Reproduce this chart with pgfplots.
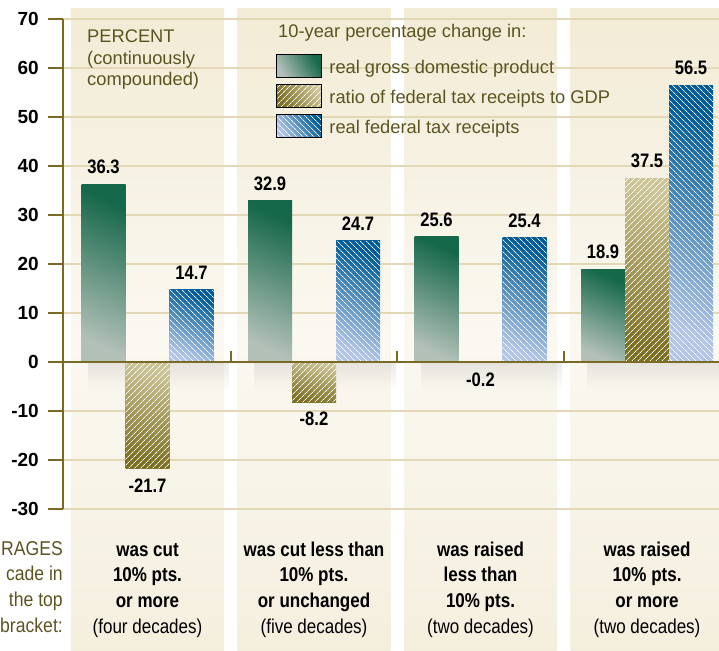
\documentclass[border=0pt]{standalone}
\usepackage{pgfplots}
\pgfplotsset{compat=1.18}
\usepackage{fontspec}
\setmainfont{Liberation Sans}
\newfontfamily\condfont[FakeStretch=0.85]{Liberation Sans}
\newfontfamily\fragfont[FakeStretch=0.88]{Liberation Sans}
\usetikzlibrary{patterns.meta,fadings}

\definecolor{axisolive}{RGB}{122,106,34}
\definecolor{txtolive}{RGB}{92,84,32}
\definecolor{gridtan}{RGB}{226,216,182}
\definecolor{paneltop}{RGB}{242,235,213}
\definecolor{panelmid}{RGB}{250,248,241}
\definecolor{panelbot}{RGB}{244,238,220}
\definecolor{gdpdark}{RGB}{22,104,74}
\definecolor{gdplight}{RGB}{178,192,184}
\definecolor{ratdark}{RGB}{124,111,34}
\definecolor{ratlight}{RGB}{204,196,150}
\definecolor{recdark}{RGB}{0,92,152}
\definecolor{reclight}{RGB}{178,197,232}

\pgfplotsset{
  gdpbar/.style={bar shift=-44pt, draw=none, top color=gdpdark, bottom color=gdplight, shading angle=-25},
  ratbar/.style={bar shift=0pt, draw=none, top color=ratlight, bottom color=ratdark, shading angle=-15},
  recbar/.style={bar shift=44pt, draw=none, top color=recdark, bottom color=reclight, shading angle=-25},
  rathatch/.style={bar shift=0pt, draw=none, pattern={Lines[angle=45,distance=4pt,line width=0.75pt]}, pattern color=white},
  rechatch/.style={bar shift=44pt, draw=none, pattern={Lines[angle=-45,distance=4pt,line width=0.75pt]}, pattern color=white},
  lblpos/.style={nodes near coords, point meta=explicit symbolic,
    nodes near coords style={font=\condfont\bfseries\fontsize{19.5}{19.5}\selectfont, text=black, inner xsep=0pt, inner ysep=10pt, anchor=south}},
  lblneg/.style={nodes near coords, point meta=explicit symbolic,
    nodes near coords style={font=\condfont\bfseries\fontsize{19.5}{19.5}\selectfont, text=black, inner xsep=0pt, inner ysep=10pt, anchor=north}},
}

\begin{document}
\begin{tikzpicture}
\begin{axis}[
  set layers,
  at={(63pt,141pt)}, anchor=south west,
  scale only axis, width=656pt, height=490pt,
  xmin=-0.5075, xmax=3.4324, ymin=-30, ymax=70,
  clip=false,
  axis y line*=left, axis x line*=bottom,
  x axis line style={draw=none},
  xtick style={draw=none},
  y axis line style={axisolive, line width=2pt},
  ytick style={axisolive, line width=2pt},
  tick align=outside, major tick length=15pt,
  ytick={-30,-20,-10,0,10,20,30,40,50,60,70},
  yticklabels={-30,-20,-10,0,10,20,30,40,50,60,70},
  yticklabel style={font=\bfseries\fontsize{19}{19}\selectfont, text=black, inner sep=0pt, anchor=east, xshift=-9pt},
  xtick={0,1,2,3},
  xticklabels={
    {\strut\textbf{was cut}\\\textbf{10\% pts.}\\\textbf{or more}\\(four decades)},
    {\strut\textbf{was cut less than}\\\textbf{10\% pts.}\\\textbf{or unchanged}\\(five decades)},
    {\strut\textbf{was raised}\\\textbf{less than}\\\textbf{10\% pts.}\\(two decades)},
    {\strut\textbf{was raised}\\\textbf{10\% pts.}\\\textbf{or more}\\(two decades)}},
  xticklabel style={align=center, font=\condfont\fontsize{20}{25.7}\selectfont, text=black, inner sep=0pt, anchor=north, yshift=-14pt},
  ybar, bar width=44pt,
  legend style={at={(axis cs:0.7718,62.857)}, anchor=north west, draw=none, fill=none,
    inner sep=0pt, outer sep=0pt, font=\fontsize{18.3}{22}\selectfont, text=txtolive,
    row sep=6.75pt, column sep=8pt, nodes={inner sep=0pt}},
  legend cell align=left,
]
\begin{pgfonlayer}{axis background}
\shade[top color=paneltop, bottom color=panelbot, middle color=panelmid] (axis cs:-0.4595,-63) rectangle (axis cs:0.4595,72.24);
\shade[top color=paneltop, bottom color=panelbot, middle color=panelmid] (axis cs:0.5405,-63) rectangle (axis cs:1.4595,72.24);
\shade[top color=paneltop, bottom color=panelbot, middle color=panelmid] (axis cs:1.5405,-63) rectangle (axis cs:2.4595,72.24);
\shade[top color=paneltop, bottom color=panelbot, middle color=panelmid] (axis cs:2.5405,-63) rectangle (axis cs:3.4595,72.24);
% soft haze below the baseline
\fill[black, opacity=0.08, path fading=south] (axis cs:-0.36,0) rectangle (axis cs:0.49,-6);
\fill[black, opacity=0.08, path fading=south] (axis cs:0.64,0) rectangle (axis cs:1.49,-6);
\fill[black, opacity=0.08, path fading=south] (axis cs:1.64,0) rectangle (axis cs:2.49,-6);
\fill[black, opacity=0.08, path fading=south] (axis cs:2.64,0) rectangle (axis cs:3.49,-6);
\pgfplotsinvokeforeach{-30,-20,-10,10,20,30,40,50,60,70}{
  \draw[gridtan, line width=1.3pt] (axis cs:-0.5075,#1) -- (axis cs:3.5,#1);
}
\end{pgfonlayer}

% legend images
\addlegendimage{legend image code/.code={
  \shade[top color=gdpdark, bottom color=gdplight, shading angle=-60] (0pt,-9.8pt) rectangle (45pt,13.2pt);}}
\addlegendentry{real gross domestic product}
\addlegendimage{legend image code/.code={
  \shade[top color=ratlight, bottom color=ratdark, shading angle=-60] (0pt,-9.8pt) rectangle (45pt,13.2pt);
  \fill[pattern={Lines[angle=45,distance=4pt,line width=0.75pt]}, pattern color=white] (0pt,-9.8pt) rectangle (45pt,13.2pt);}}
\addlegendentry{ratio of federal tax receipts to GDP}
\addlegendimage{legend image code/.code={
  \shade[top color=recdark, bottom color=reclight, shading angle=-60] (0pt,-9.8pt) rectangle (45pt,13.2pt);
  \fill[pattern={Lines[angle=-45,distance=4pt,line width=0.75pt]}, pattern color=white] (0pt,-9.8pt) rectangle (45pt,13.2pt);}}
\addlegendentry{real federal tax receipts}

% real GDP
\addplot[gdpbar, lblpos, forget plot] coordinates {(0,36.3) [36.3]};
\addplot[gdpbar, lblpos, forget plot] coordinates {(1,32.9) [32.9]};
\addplot[gdpbar, lblpos, forget plot] coordinates {(2,25.6) [25.6]};
\addplot[gdpbar, lblpos, forget plot] coordinates {(3,18.9) [18.9]};
% ratio of tax receipts to GDP
\addplot[ratbar, lblneg, forget plot] coordinates {(0,-21.7) [-21.7]};
\addplot[ratbar, lblneg, forget plot] coordinates {(1,-8.2) [-8.2]};
\addplot[ratbar, lblneg, forget plot] coordinates {(2,-0.2) [-0.2]};
\addplot[ratbar, lblpos, forget plot] coordinates {(3,37.5) [37.5]};
\addplot[rathatch, forget plot] coordinates {(0,-21.7) (1,-8.2) (2,-0.2) (3,37.5)};
% real tax receipts
\addplot[recbar, lblpos, forget plot] coordinates {(0,14.7) [14.7]};
\addplot[recbar, lblpos, forget plot] coordinates {(1,24.7) [24.7]};
\addplot[recbar, lblpos, forget plot] coordinates {(2,25.4) [25.4]};
\addplot[recbar, lblpos, forget plot] coordinates {(3,56.5) [56.5]};
\addplot[rechatch, forget plot] coordinates {(0,14.7) (1,24.7) (2,25.4) (3,56.5)};

% zero line and separators
\draw[axisolive, line width=2.5pt] (axis cs:-0.5075,0) -- (axis cs:3.5,0);
\pgfplotsinvokeforeach{0.5,1.5,2.5}{
  \draw[axisolive, line width=2pt] (axis cs:#1,0) -- (axis cs:#1,2.2);
}
% texts
\node[anchor=north west, inner sep=0pt, align=left, font=\fontsize{18.3}{21.7}\selectfont, text=txtolive]
  at (axis cs:-0.3634,67.88) {PERCENT\\(continuously\\compounded)};
\node[anchor=base west, inner sep=0pt, font=\fontsize{18.3}{22}\selectfont, text=txtolive]
  at (axis cs:0.7838,66.12) {10-year percentage change in:};
\node[anchor=north east, inner sep=0pt, align=right, font=\fragfont\fontsize{20}{25.7}\selectfont, text=txtolive, yshift=-28pt]
  at (rel axis cs:0,0) {\strut RAGES\\cade in\\the top\\bracket:};
\end{axis}
\pgfresetboundingbox
\path[use as bounding box] (0,0) rectangle (719pt,650pt);
\end{tikzpicture}
\end{document}
